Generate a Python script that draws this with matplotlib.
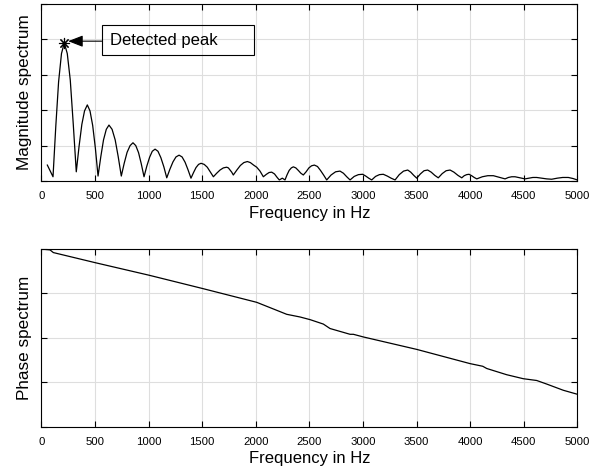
import matplotlib
matplotlib.use("Agg")
import matplotlib.pyplot as plt
from matplotlib.patches import Rectangle

plt.rcParams['font.family'] = ['Liberation Sans', 'DejaVu Sans']

# magnitude spectrum (Hz, magnitude)
mag_freq = [56, 109, 135, 161, 188, 214, 242, 270, 298, 326,
            352, 378, 403, 429, 454, 479, 504, 529,
            555, 580, 606, 631, 660, 689, 717, 746,
            773, 800, 828, 855, 881, 907, 932, 958,
            984, 1010, 1035, 1061, 1088, 1115, 1143, 1170,
            1199, 1228, 1256, 1285, 1313, 1341, 1368, 1396,
            1420, 1443, 1467, 1490, 1519, 1548, 1576, 1605,
            1636, 1667, 1698, 1729, 1745, 1760, 1776, 1791,
            1824, 1857, 1889, 1922, 1950, 1980, 2009, 2040, 2071,
            2100, 2125, 2149, 2175, 2200, 2220, 2248, 2273,
            2293, 2312, 2332, 2351, 2374, 2397, 2421, 2444,
            2470, 2496, 2521, 2547, 2576, 2604, 2633, 2662,
            2703, 2745, 2786, 2818, 2849, 2880,
            2919, 2958, 2998, 3026, 3054, 3082,
            3118, 3154, 3190, 3227, 3263, 3300,
            3339, 3379, 3418, 3446, 3474, 3502,
            3536, 3570, 3604, 3637, 3670, 3703,
            3740, 3776, 3813, 3849, 3886, 3922,
            3945, 3968, 3990, 4014, 4038, 4062,
            4114, 4165, 4217, 4253, 4290, 4326,
            4357, 4388, 4419, 4450, 4481, 4512,
            4548, 4585, 4621, 4667, 4714, 4761,
            4813, 4864, 4916, 4960, 5000]
mag_vals = [0.45, 0.12, 1.55, 2.8, 3.6, 3.9, 3.6, 2.85, 1.6, 0.26,
            0.98, 1.6, 1.98, 2.15, 1.98, 1.57, 0.93, 0.14,
            0.69, 1.16, 1.46, 1.58, 1.46, 1.16, 0.69, 0.14,
            0.5, 0.81, 1.0, 1.08, 1.0, 0.8, 0.49, 0.12,
            0.42, 0.67, 0.84, 0.9, 0.84, 0.66, 0.4, 0.09,
            0.33, 0.54, 0.68, 0.73, 0.68, 0.53, 0.32, 0.08,
            0.24, 0.38, 0.47, 0.5, 0.47, 0.39, 0.26, 0.12,
            0.22, 0.31, 0.37, 0.39, 0.37, 0.31, 0.25, 0.17,
            0.31, 0.44, 0.52, 0.55, 0.52, 0.45, 0.39, 0.28, 0.12,
            0.19, 0.24, 0.25, 0.2, 0.1, 0.03, 0.08, 0.03,
            0.18, 0.3, 0.37, 0.4, 0.37, 0.3, 0.22, 0.17,
            0.26, 0.37, 0.43, 0.45, 0.41, 0.3, 0.17, 0.03,
            0.17, 0.26, 0.28, 0.22, 0.12, 0.03,
            0.13, 0.18, 0.19, 0.14, 0.08, 0.03,
            0.13, 0.18, 0.19, 0.14, 0.08, 0.03,
            0.18, 0.28, 0.31, 0.25, 0.16, 0.08,
            0.2, 0.29, 0.31, 0.25, 0.16, 0.09,
            0.21, 0.29, 0.31, 0.25, 0.16, 0.09,
            0.15, 0.18, 0.19, 0.15, 0.1, 0.06,
            0.12, 0.15, 0.15, 0.12, 0.09, 0.06,
            0.1, 0.12, 0.12, 0.1, 0.08, 0.06,
            0.08, 0.1, 0.1, 0.08, 0.06, 0.05,
            0.08, 0.1, 0.1, 0.07, 0.03]

# phase spectrum (unwrapped)
phase_freq = [0, 81, 112, 507, 1005, 1505, 2009, 2196, 2289, 2413, 2507,
              2631, 2693, 2880, 2911, 3004, 3502, 3999, 4118, 4155, 4341,
              4496, 4621, 4714, 4869, 5000]
phase_vals = [0.0, -0.02, -0.08, -0.31, -0.59, -0.89, -1.2, -1.38, -1.47,
              -1.53, -1.59, -1.69, -1.79, -1.92, -1.92, -1.98, -2.26, -2.58,
              -2.64, -2.69, -2.83, -2.92, -2.96, -3.04, -3.18, -3.27]

peak_freq = 214
peak_mag = 3.9

freq_ticks = list(range(0, 5001, 500))

fig = plt.figure(figsize=(5.99, 4.71), dpi=100)
ax1 = fig.add_axes([0.069, 0.6157, 0.8948, 0.3758])
ax2 = fig.add_axes([0.069, 0.0941, 0.8948, 0.3772])


def style(ax):
    ax.set_xlim(0, 5000)
    ax.set_xticks(freq_ticks)
    ax.set_yticklabels([])
    ax.grid(True, color='#dedede', linewidth=0.8)
    ax.set_axisbelow(True)
    ax.tick_params(direction='in', top=True, right=True, length=4,
                   width=0.8, labelsize=8.2, pad=7.5)
    for s in ax.spines.values():
        s.set_linewidth(0.8)
    ax.set_xlabel('Frequency in Hz', fontsize=12, labelpad=3)


ax1.plot(mag_freq, mag_vals, color='black', linewidth=0.9)
ax1.set_ylim(0, 5)
ax1.set_yticks(range(0, 6))
style(ax1)
ax1.set_ylabel('Magnitude spectrum', fontsize=12.3, labelpad=-0.5)

ax1.plot([peak_freq], [peak_mag], marker=(8, 2, 0), color='black',
         markersize=8, markeredgewidth=0.8, linestyle='none')
ax1.add_patch(Rectangle((563, 3.56), 1421, 0.85, fill=False,
                        edgecolor='black', linewidth=0.8))
ax1.text(641, 3.98, 'Detected peak', fontsize=12, ha='left', va='center')
ax1.annotate('', xy=(250, 3.95), xytext=(563, 3.95),
             arrowprops=dict(arrowstyle='-|>,head_length=0.9,head_width=0.35',
                             color='black', linewidth=0.8,
                             shrinkA=0, shrinkB=0))

ax2.plot(phase_freq, phase_vals, color='black', linewidth=0.9)
ax2.set_ylim(-4, 0)
ax2.set_yticks(range(-4, 1))
style(ax2)
ax2.set_ylabel('Phase spectrum', fontsize=12.3, labelpad=-0.5)

fig.savefig('out.png', dpi=100)
